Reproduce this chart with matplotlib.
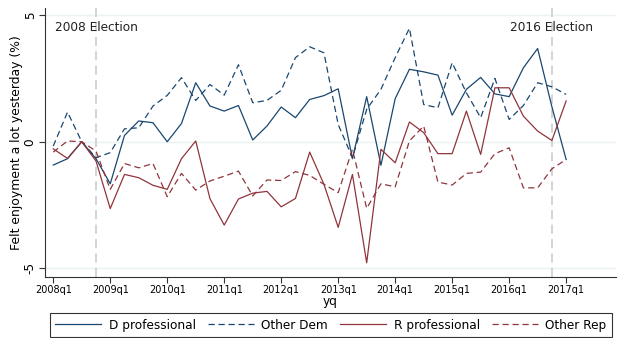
import matplotlib
matplotlib.use("Agg")
import matplotlib.pyplot as plt
from matplotlib.lines import Line2D

# Quarterly series, 2008q1 .. 2017q1
quarters = list(range(37))
d_professional = [-0.92, -0.67, 0.00, -0.67, -1.66, 0.25, 0.82, 0.75, 0.00, 0.72,
                  2.33, 1.41, 1.21, 1.43, 0.07, 0.62, 1.37, 0.95, 1.67, 1.82,
                  2.09, -0.67, 1.78, -0.93, 1.70, 2.86, 2.76, 2.63, 1.05, 2.07,
                  2.54, 1.89, 1.78, 2.92, 3.68, 1.38, -0.70]
other_dem = [-0.17, 1.17, 0.00, -0.63, -0.43, 0.51, 0.55, 1.41, 1.83, 2.53,
             1.63, 2.26, 1.84, 3.04, 1.54, 1.63, 2.03, 3.32, 3.75, 3.51,
             0.68, -0.63, 1.28, 2.07, 3.32, 4.48, 1.47, 1.34, 3.12, 1.93,
             0.95, 2.50, 0.88, 1.43, 2.33, 2.17, 1.87]
r_professional = [-0.28, -0.66, 0.00, -0.76, -2.64, -1.29, -1.42, -1.72, -1.88, -0.67,
                  0.03, -2.25, -3.29, -2.26, -2.03, -1.96, -2.57, -2.24, -0.41, -1.68,
                  -3.38, -1.29, -4.78, -0.30, -0.83, 0.78, 0.36, -0.47, -0.47, 1.21,
                  -0.50, 2.13, 2.13, 1.01, 0.42, 0.05, 1.61]
other_rep = [-0.41, 0.03, 0.00, -0.37, -1.88, -0.86, -1.03, -0.86, -2.17, -1.25,
             -1.91, -1.55, -1.36, -1.16, -2.14, -1.51, -1.53, -1.18, -1.33, -1.68,
             -2.01, -0.30, -2.63, -1.66, -1.78, 0.03, 0.62, -1.59, -1.71, -1.25,
             -1.20, -0.47, -0.24, -1.82, -1.82, -1.07, -0.70]

tick_positions = list(range(0, 37, 4))
tick_labels = ["2008q1", "2009q1", "2010q1", "2011q1", "2012q1",
               "2013q1", "2014q1", "2015q1", "2016q1", "2017q1"]
elections = [3, 35]
election_labels = ["2008 Election", "2016 Election"]

BLUE = "#1a476f"
RED = "#90353b"
DASH = (0, (5, 3))

fig = plt.figure(figsize=(6.18, 3.38), dpi=100)
ax = fig.add_axes([45 / 618, (338 - 277) / 338, 571 / 618, 269 / 338])

for y in (-5, 0, 5):
    ax.axhline(y, color="#eaf2f3", lw=1.0, zorder=0)
for x in elections:
    ax.axvline(x, color="#d0d0d0", lw=1.3, ls=(0, (5, 3)), zorder=1)

ax.plot(quarters, d_professional, color=BLUE, lw=0.9, label="D professional")
ax.plot(quarters, other_dem, color=BLUE, lw=0.9, ls=DASH, label="Other Dem")
ax.plot(quarters, r_professional, color=RED, lw=0.9, label="R professional")
ax.plot(quarters, other_rep, color=RED, lw=0.9, ls=DASH, label="Other Rep")

for x, t in zip(elections, election_labels):
    ax.text(x, 4.5, t, ha="center", va="center", fontsize=8.7, color="#222222")

ax.set_xlim(-0.58, 39.5)
ax.set_ylim(-5.34, 5.28)
ax.set_xticks(tick_positions)
ax.set_xticklabels(tick_labels, fontsize=7)
ax.set_yticks([-5, 0, 5])
ax.set_yticklabels(["-5", "0", "5"], fontsize=8.7, rotation=90, va="center")
ax.tick_params(axis="both", length=4, width=0.8, color="#333333", pad=2)
ax.set_xlabel("yq", fontsize=8.7, labelpad=0)
ax.set_ylabel("Felt enjoyment a lot yesterday (%)", fontsize=8.9)
ax.yaxis.set_label_coords(-0.038, 0.5)

for side in ("top", "right"):
    ax.spines[side].set_visible(False)
for side in ("left", "bottom"):
    ax.spines[side].set_linewidth(0.8)
    ax.spines[side].set_color("#333333")

handles = [
    Line2D([], [], color=BLUE, lw=0.9),
    Line2D([], [], color=BLUE, lw=0.9, ls=DASH),
    Line2D([], [], color=RED, lw=0.9),
    Line2D([], [], color=RED, lw=0.9, ls=DASH),
]
labels = ["D professional", "Other Dem", "R professional", "Other Rep"]
leg = fig.legend(handles, labels, loc="lower left",
                 bbox_to_anchor=(50 / 618, 1 / 338, 562 / 618, 23 / 338),
                 mode="expand", ncol=4, fontsize=8.7, handlelength=3.8,
                 handletextpad=0.6, columnspacing=1.0, borderpad=0.45,
                 borderaxespad=0.0,
                 frameon=True, fancybox=False, edgecolor="black")
leg.get_frame().set_linewidth(0.8)

fig.savefig("out.png", dpi=100)
